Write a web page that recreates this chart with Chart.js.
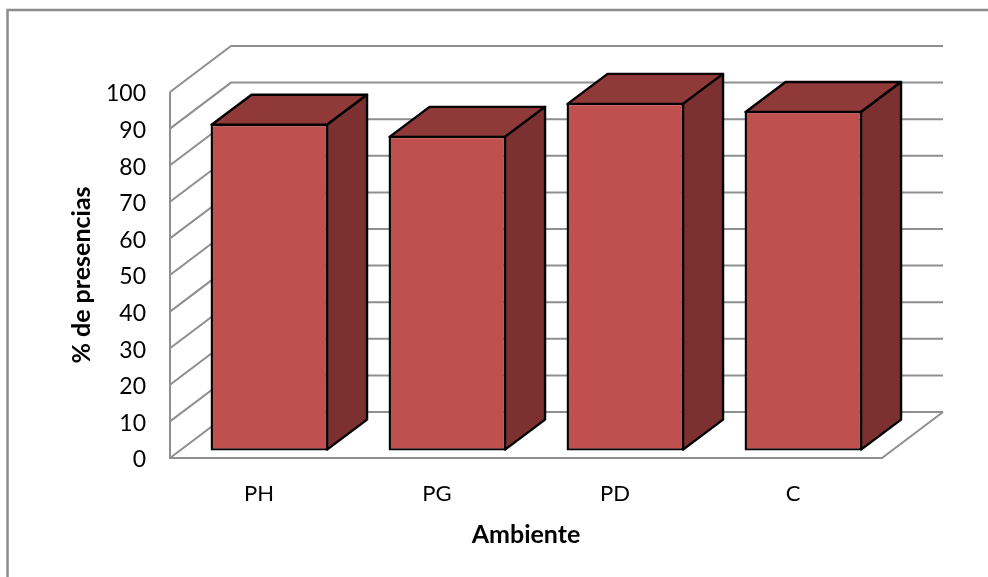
<!DOCTYPE html>
<html>
<head>
<meta charset="utf-8">
<title>Ambiente</title>
<script src="https://cdn.jsdelivr.net/npm/chart.js@4"></script>
<style>
    html, body { margin: 0; padding: 0; background: #fff; overflow: hidden; }
    #wrap { position: relative; width: 988px; height: 577px; }
</style>
</head>
<body>
<div id="wrap"><canvas id="grafico"></canvas></div>
<script>
const categorias = ['PH', 'PG', 'PD', 'C'];
const presencias = [89.3, 86, 95, 92.8];
const ticksY = [0, 10, 20, 30, 40, 50, 60, 70, 80, 90, 100];

const GRIS = '#8f8f8f';
// profundidad de la pared del fondo y de las barras
const fondo = { dx: 61, dy: 46 };
const caja = { dx: 40, dy: 30 };
// la cara frontal de las barras va un poco dentro del piso
const desplazamiento = { x: 10.3, y: -7.4 };

function linea(ctx, puntos) {
    ctx.beginPath();
    puntos.forEach((p, i) => i ? ctx.lineTo(p[0], p[1]) : ctx.moveTo(p[0], p[1]));
    ctx.stroke();
}

function cara(ctx, puntos, color) {
    ctx.beginPath();
    puntos.forEach((p, i) => i ? ctx.lineTo(p[0], p[1]) : ctx.moveTo(p[0], p[1]));
    ctx.closePath();
    ctx.fillStyle = color;
    ctx.fill();
    ctx.stroke();
}

const marco = {
    id: 'marco',
    beforeDraw(chart) {
        const ctx = chart.ctx;
        ctx.save();
        ctx.strokeStyle = '#8c8c8c';
        ctx.lineWidth = 2.5;
        linea(ctx, [[7.5, 577], [7.5, 10], [988, 10]]);
        ctx.restore();
    }
};

// paredes y piso en perspectiva, con la escala de Chart.js
const paredes = {
    id: 'paredes',
    beforeDatasetsDraw(chart) {
        const ctx = chart.ctx;
        const y = chart.scales.y;
        const a = chart.chartArea;
        ctx.save();
        ctx.strokeStyle = GRIS;
        ctx.lineWidth = 2;
        ticksY.forEach(v => {
            const py = y.getPixelForValue(v);
            linea(ctx, [[a.left, py], [a.left + fondo.dx, py - fondo.dy], [a.right + fondo.dx, py - fondo.dy]]);
        });
        const y0 = y.getPixelForValue(0);
        linea(ctx, [[a.left, y.getPixelForValue(100)], [a.left, y0], [a.right, y0], [a.right + fondo.dx, y0 - fondo.dy]]);
        ctx.restore();
    },
    beforeDatasetDraw(chart, args) {
        const ctx = chart.ctx;
        ctx.save();
        ctx.translate(desplazamiento.x, desplazamiento.y);
        ctx.strokeStyle = '#000';
        ctx.lineWidth = 2.4;
        ctx.lineJoin = 'round';
        args.meta.data.forEach(barra => {
            const izq = barra.x - barra.width / 2 + 1;
            const der = barra.x + barra.width / 2 - 1;
            cara(ctx, [[izq, barra.y + 1], [izq + caja.dx, barra.y + 1 - caja.dy], [der + caja.dx, barra.y + 1 - caja.dy], [der, barra.y + 1]], '#8f3a38');
            cara(ctx, [[der, barra.y + 1], [der + caja.dx, barra.y + 1 - caja.dy], [der + caja.dx, barra.base - 1 - caja.dy], [der, barra.base - 1]], '#7c3130');
        });
    },
    afterDatasetDraw(chart) {
        chart.ctx.restore();
    }
};

const ctx = document.getElementById('grafico').getContext('2d');
new Chart(ctx, {
    type: 'bar',
    data: {
        labels: categorias,
        datasets: [{
            label: '% de presencias',
            data: presencias,
            backgroundColor: '#c0504d',
            borderColor: '#000',
            borderWidth: 2.4,
            borderSkipped: false,
            barPercentage: 0.66,
            categoryPercentage: 1
        }]
    },
    options: {
        responsive: true,
        maintainAspectRatio: false,
        animation: false,
        layout: { padding: { top: 92, right: 106, left: 0, bottom: 0 } },
        clip: false,
        plugins: {
            legend: { display: false },
            tooltip: { enabled: false }
        },
        scales: {
            x: {
                afterFit: s => { s.height = 119; },
                grid: { display: false },
                border: { display: false },
                ticks: { color: '#000', padding: 15, font: { family: 'Lato', size: 22 } },
                title: {
                    display: true,
                    text: 'Ambiente',
                    color: '#000',
                    font: { family: 'Lato', size: 25, weight: 'bold' },
                    padding: { top: 0, bottom: 27 }
                }
            },
            y: {
                min: 0,
                max: 100,
                afterFit: s => { s.width = 170; },
                afterBuildTicks: s => { s.ticks = ticksY.map(v => ({ value: v })); },
                grid: { display: false },
                border: { display: false },
                ticks: { color: '#000', padding: 16, labelOffset: 2, font: { family: 'Lato', size: 23 } },
                title: {
                    display: true,
                    text: '% de presencias',
                    color: '#000',
                    font: { family: 'Lato', size: 25, weight: 'bold' },
                    padding: { top: 67, bottom: 0 }
                }
            }
        }
    },
    plugins: [marco, paredes]
});
</script>
</body>
</html>
